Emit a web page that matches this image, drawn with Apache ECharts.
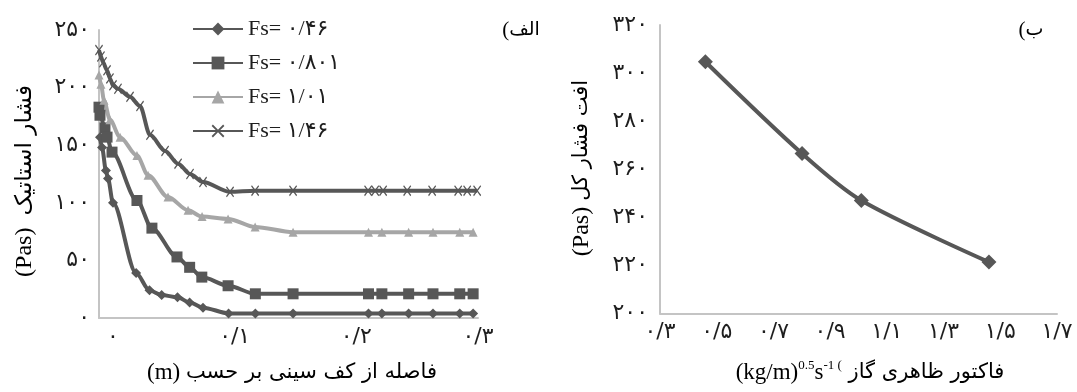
<!DOCTYPE html>
<html><head><meta charset="utf-8">
<script src="https://cdn.jsdelivr.net/npm/echarts@6/dist/echarts.min.js"></script>
<style>html,body{margin:0;padding:0;background:#fff}#c{width:1077px;height:392px}</style>
</head><body><div id="c"></div>
<script>
// ---- Left chart (الف) data ----
const seriesNames = ['Fs= ۰/۴۶', 'Fs= ۰/۸۰۱', 'Fs= ۱/۰۱', 'Fs= ۱/۴۶'];
const s1X = [-0.0107,-0.009,-0.0058,-0.0041,0,0.019,0.030,0.040,0.053,0.063,0.074,0.095,0.117,0.148,0.210,0.221,0.243,0.263,0.285,0.296];
const s1Y = [157,148,128,121,100,39,24,20,18,13.5,9,4,4,4,4,4,4,4,4,4];
const s2X = [-0.0115,-0.0107,-0.0066,-0.0049,-0.0008,0.0197,0.032,0.0526,0.063,0.073,0.0946,0.117,0.148,0.21,0.221,0.243,0.263,0.285,0.296];
const s2Y = [183,176,165,157,144,102,78,53,44,35.5,28,21,21,21,21,21,21,21,21];
const s3X = [-0.0115,-0.0099,-0.0074,-0.0025,0.0058,0.0197,0.0288,0.0452,0.0617,0.0732,0.0946,0.1168,0.148,0.21,0.221,0.243,0.263,0.285,0.296];
const s3Y = [211,203,189,172,157,141,124,105,93.5,88,86,79,74.5,74.5,74.5,74.5,74.5,74.5,74.5];
const s4X = [-0.0115,-0.0099,-0.0082,-0.0049,-0.0025,0,0.0041,0.014,0.0222,0.0304,0.0428,0.0535,0.0633,0.074,0.0962,0.1168,0.148,0.2097,0.2155,0.222,0.2418,0.2623,0.2837,0.2911,0.2993];
const s4Y = [232.6,227,222,215,208,202,199,192,184,159,145,134,125,118,109.5,110.5,110.5,110.5,110.5,110.5,110.5,110.5,110.5,110.5,110.5];
const leftXTicks = [0, 0.1, 0.2, 0.3];
// ---- Right chart (ب) data ----
const rightX = [0.46, 0.801, 1.01, 1.46];
const rightY = [304.7, 266.5, 247, 221.4];

const FA = '۰۱۲۳۴۵۶۷۸۹';
function fa(s){ return String(s).replace(/\d/g, d => FA[d]).replace('.', '/'); }
function zip(a,b){ return a.map((v,i)=>[v,b[i]]); }

const FONT = "'Liberation Serif','DejaVu Serif','DejaVu Sans',serif";
const PFONT = "'DejaVu Sans','Noto Sans',sans-serif";
const DARK = '#575757', LIGHT = '#a6a6a6', AXIS = '#c4c4c4', TXT = '#1e1e1e';
const xSym = 'path://M0,1 L1,0 L5,4 L9,0 L10,1 L6,5 L10,9 L9,10 L5,6 L1,10 L0,9 L4,5 Z';
const LBL = 22;

const axisCommon = {
  axisTick: {show: false},
  splitLine: {show: false},
};
const axLine = {show: true, onZero: false, lineStyle: {color: AXIS, width: 2}};
const chart = echarts.init(document.getElementById('c'), null, {renderer: 'canvas'});
const lineSeries = (name, data, color, symbol, size) => ({
  name, type: 'line', xAxisIndex: 0, yAxisIndex: 0, data,
  smooth: 0.3, smoothMonotone: 'x',
  symbol, symbolSize: size,
  lineStyle: {color, width: 4},
  itemStyle: {color},
  emphasis: {disabled: true}
});
chart.setOption({
  animation: false,
  backgroundColor: '#fff',
  textStyle: {fontFamily: FONT},
  grid: [
    {left: 99, top: 30, width: 379, height: 288},
    {left: 660, top: 25, width: 397, height: 288.5}
  ],
  xAxis: [
    Object.assign({type: 'value', gridIndex: 0, min: -0.0115, max: 0.3, axisLine: axLine,
      axisLabel: {customValues: leftXTicks, formatter: v => fa(+v.toFixed(1)), color: TXT, fontSize: LBL, fontFamily: PFONT, margin: 8}}, axisCommon),
    Object.assign({type: 'value', gridIndex: 1, min: 0.3, max: 1.7, interval: 0.2, axisLine: axLine,
      axisLabel: {formatter: v => fa(v.toFixed(1)), color: TXT, fontSize: LBL, fontFamily: PFONT, margin: 8}}, axisCommon)
  ],
  yAxis: [
    Object.assign({type: 'value', gridIndex: 0, min: 0, max: 250, interval: 50, axisLine: axLine,
      axisLabel: {formatter: v => fa(v), color: TXT, fontSize: LBL, fontFamily: PFONT, margin: 9}}, axisCommon),
    Object.assign({type: 'value', gridIndex: 1, min: 200, max: 320, interval: 20, axisLine: axLine,
      axisLabel: {formatter: v => fa(v), color: TXT, fontSize: LBL, fontFamily: PFONT, margin: 12}}, axisCommon)
  ],
  legend: {
    data: seriesNames, orient: 'vertical', left: 187, top: 13,
    itemWidth: 50, itemHeight: 16, itemGap: 12,
    textStyle: {fontFamily: FONT, fontSize: 22, color: TXT},
    selectedMode: false
  },
  series: [
    lineSeries(seriesNames[0], zip(s1X, s1Y), DARK, 'diamond', 10),
    lineSeries(seriesNames[1], zip(s2X, s2Y), DARK, 'rect', 11),
    lineSeries(seriesNames[2], zip(s3X, s3Y), LIGHT, 'triangle', 9),
    lineSeries(seriesNames[3], zip(s4X, s4Y), DARK, xSym, [8, 11]),
    {name: 'right', type: 'line', xAxisIndex: 1, yAxisIndex: 1, data: zip(rightX, rightY),
     smooth: 0.3, symbol: 'diamond', symbolSize: 15,
     lineStyle: {color: DARK, width: 4}, itemStyle: {color: DARK}, emphasis: {disabled: true}}
  ],
  graphic: [
    {type: 'text', x: 521, y: 30, style: {
      text: '{p|(}{t|الف}', align: 'center', verticalAlign: 'middle',
      rich: {p: {fontFamily: FONT, fontSize: 21, color: TXT}, t: {fontFamily: PFONT, fontSize: 19, color: TXT}}}},
    {type: 'text', x: 1031, y: 30, style: {
      text: '{p|(}{t|ب}', align: 'center', verticalAlign: 'middle',
      rich: {p: {fontFamily: FONT, fontSize: 21, color: TXT}, t: {fontFamily: PFONT, fontSize: 19, color: TXT}}}},
    {type: 'text', x: 292, y: 373, style: {
      text: '{a|(m) }{b|فاصله از کف سینی بر حسب}', align: 'center', verticalAlign: 'middle',
      rich: {a: {fontFamily: FONT, fontSize: 23, color: TXT}, b: {fontFamily: PFONT, fontSize: 21, color: TXT}}}},
    {type: 'text', x: 870, y: 373, style: {
      text: '{a|(kg/m)}{s|0.5}{a|s}{s|-1 (}{b| فاکتور ظاهری گاز}', align: 'center', verticalAlign: 'middle',
      rich: {a: {fontFamily: FONT, fontSize: 23, color: TXT, lineHeight: 28},
             s: {fontFamily: FONT, fontSize: 13, color: TXT, verticalAlign: 'top', lineHeight: 28},
             b: {fontFamily: PFONT, fontSize: 21, color: TXT, lineHeight: 28}}}},
    {type: 'text', x: 25, y: 181, rotation: Math.PI / 2, style: {
      text: '{a|(Pas)  }{b|فشار استاتیک}', align: 'center', verticalAlign: 'middle',
      rich: {a: {fontFamily: FONT, fontSize: 24, color: TXT}, b: {fontFamily: PFONT, fontSize: 23, color: TXT}}}},
    {type: 'text', x: 582, y: 168, rotation: Math.PI / 2, style: {
      text: '{a|(Pas) }{b|افت فشار کل}', align: 'center', verticalAlign: 'middle',
      rich: {a: {fontFamily: FONT, fontSize: 24, color: TXT}, b: {fontFamily: PFONT, fontSize: 21, color: TXT}}}}
  ]
});
</script></body></html>
